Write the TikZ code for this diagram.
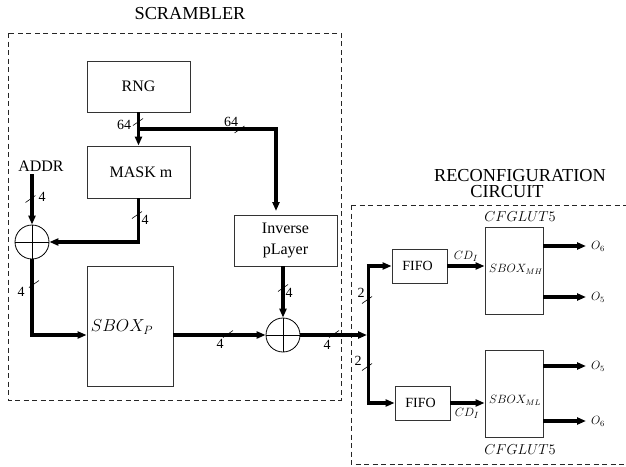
\documentclass[tikz,border=0pt]{standalone}
\usepackage{fontspec}
\setmainfont{Liberation Serif}
\usetikzlibrary{arrows.meta}
\tikzset{
  x=1pt,y=-1pt,
  blockbox/.style={draw=black!80,line width=0.9pt,minimum width=#1,inner sep=0pt,font=\fontsize{16}{21.5}\selectfont,align=center},
  frame/.style={draw=black!85,line width=0.8pt,dash pattern=on 5pt off 3.5pt},
  bus/.style={line width=3.2pt,-{Triangle[length=9pt,width=7pt]}},
  plainbus/.style={line width=3.2pt},
  xorgate/.style={circle,draw=black,line width=0.8pt,minimum size=34pt,inner sep=0pt},
  tickm/.style={line width=0.6pt,draw=black},
  lab/.style={font=\fontsize{14}{16}\selectfont,inner sep=0pt},
  title/.style={font=\fontsize{18.3}{20}\selectfont,inner sep=0pt},
}
\newcommand{\busmark}[1]{\draw[tickm] (#1) ++(-5,3.5) -- ++(10,-7);}
\begin{document}
\begin{tikzpicture}
\useasboundingbox (0,0) rectangle (626,466);
\path[frame,draw] (8,33) rectangle (341,400);
\path[frame,draw] (351,205) -- (626,205) (351,205) -- (351,464) -- (626,464);
\node[title] (tscr) at (190,14) {SCRAMBLER};
\node[title] (trec1) at (520,175.5) {RECONFIGURATION};
\node[title] (trec2) at (507,192) {CIRCUIT};
% blocks
\node[blockbox=103pt,minimum height=51pt] (rng) at (138.5,86.5) {RNG};
\node[blockbox=103pt,minimum height=52pt] (mask) at (138.5,172) {\hspace{5pt}MASK m};
\node[blockbox=103pt,minimum height=51pt] (inv) at (285.5,240.5) {Inverse\\pLayer};
\node[blockbox=86pt,minimum height=120pt] (sboxp) at (130,326) {};
\node[lab,font=\fontsize{17.5}{20}\selectfont] (sboxpl) at (122,327) {$SBOX_P$};
\node[blockbox=55pt,minimum height=34pt,font=\fontsize{14}{17}\selectfont] (fifoa) at (419.5,266) {\hspace{-4pt}FIFO};
\node[blockbox=55pt,minimum height=34pt,font=\fontsize{14}{17}\selectfont] (fifob) at (422.5,403) {\hspace{-4pt}FIFO};
\node[blockbox=58pt,minimum height=87pt] (mh) at (514,270.5) {};
\node[blockbox=58pt,minimum height=87pt] (ml) at (514,393.5) {};
\node[lab,font=\fontsize{12}{14}\selectfont] (mhl) at (516,269) {$SBOX_{MH}$};
\node[lab,font=\fontsize{12}{14}\selectfont] (mll) at (515,400) {$SBOX_{ML}$};
\node[xorgate] (xa) at (32,242) {};
\node[xorgate] (xb) at (283,335) {};
\draw[line width=0.8pt] (xa.north)--(xa.south) (xa.west)--(xa.east);
\draw[line width=0.8pt] (xb.north)--(xb.south) (xb.west)--(xb.east);
% labels
\node[lab,font=\fontsize{16}{18}\selectfont] (addr) at (41,166) {ADDR};
\node[lab] (cfgt) at (520,217) {$CFGLUT5$};
\node[lab] (cfgb) at (520,450) {$CFGLUT5$};
\node[lab] at (124,125) {64};
\node[lab] at (231,122) {64};
\node[lab] at (42,197) {4};
\node[lab] at (145,220) {4};
\node[lab] at (21,292) {4};
\node[lab] at (289,293) {4};
\node[lab] at (220,344) {4};
\node[lab] at (327,345) {4};
\node[lab] at (361,293) {2};
\node[lab] at (358,361) {2};
\node[lab,font=\fontsize{13}{15}\selectfont] at (466,256) {$CD_I$};
\node[lab,font=\fontsize{13}{15}\selectfont] at (467,413) {$CD_I$};
% named points
\coordinate (j1) at (138.5,129);
\coordinate (ib) at (276,211);
\coordinate (jc) at (276,129);
\coordinate (addrend) at (32,174);
\coordinate (mbot) at (138.5,242);
\coordinate (xs) at (32,335);
\coordinate (j2) at (367,335);
\coordinate (u) at (368.5,266);
\coordinate (l) at (368.5,403);
\coordinate (oa) at (586,246);
\coordinate (ob) at (586,297);
\coordinate (oc) at (586,366);
\coordinate (od) at (586,421);
\node[lab,font=\fontsize{12}{14}\selectfont] (oat) at (598,246) {$O_6$};
\node[lab,font=\fontsize{12}{14}\selectfont] (obt) at (598,297) {$O_5$};
\node[lab,font=\fontsize{12}{14}\selectfont] (oct) at (598,366) {$O_5$};
\node[lab,font=\fontsize{12}{14}\selectfont] (odt) at (598,421) {$O_6$};
% buses
\draw[bus] (rng.south) -- (mask.north);
\draw[bus] (j1) -- (jc) -- (ib);
\draw[bus] (addrend) -- (xa.north);
\draw[bus] (mask.south) -- (mbot) -- (xa.east);
\draw[bus] (xa.south) -- (xs) -- (sboxp.west |- xs);
\draw[bus] (sboxp.east |- xs) -- (xb.west);
\draw[bus] (inv.south -| xb) -- (xb.north);
\draw[bus] (xb.east) -- (j2);
\draw[bus] (u) ++(-1.6,0) -- (fifoa.west);
\draw[bus] (l) ++(-1.6,0) -- (fifob.west);
\draw[plainbus] (u) -- (l);
\draw[bus] (fifoa.east) -- (mh.west |- fifoa);
\draw[bus] (fifob.east) -- (ml.west |- fifob);
\draw[bus] (mh.east |- oa) -- (oa);
\draw[bus] (mh.east |- ob) -- (ob);
\draw[bus] (ml.east |- oc) -- (oc);
\draw[bus] (ml.east |- od) -- (od);
% slash marks
\busmark{138,122}
\busmark{239.5,129.5}
\busmark{30.5,199}
\busmark{137,215}
\busmark{34,284}
\busmark{283,288}
\busmark{228,334}
\busmark{334,334}
\busmark{367,300}
\busmark{367,367}
\end{tikzpicture}
\end{document}
